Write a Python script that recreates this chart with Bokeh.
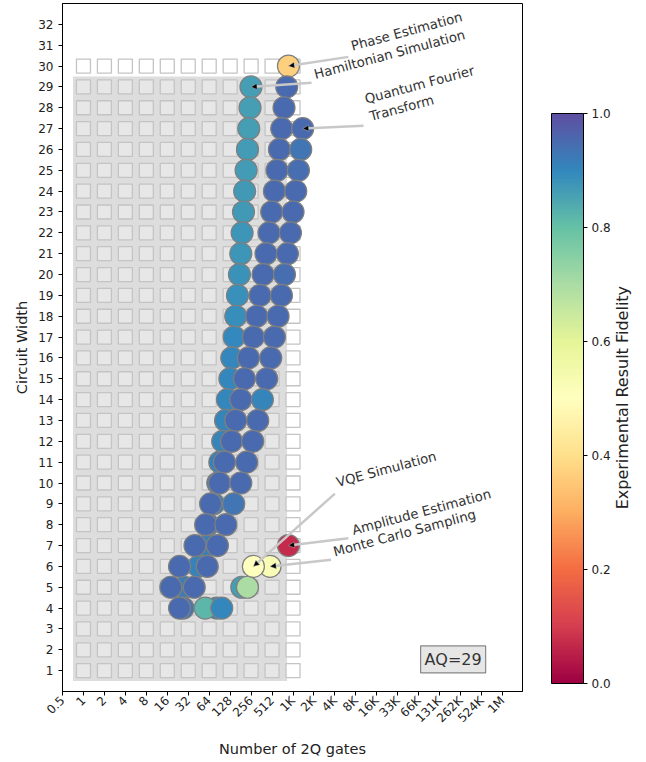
import math
import numpy as np
from bokeh.plotting import figure
from bokeh.models import (ColumnDataSource, LinearColorMapper, FixedTicker, Range1d,
                          Label, Arrow, NormalHead, ColorBar, PrintfTickFormatter)
from bokeh.layouts import row
from bokeh.transform import transform
from bokeh.core.properties import value
from bokeh.embed import file_html
from bokeh.resources import INLINE

# ---------------- data ----------------
AQ = 29
x_tick_values = [0.5] + [2 ** k for k in range(0, 21)]
x_tick_labels = ["0.5", "1", "2", "4", "8", "16", "32", "64", "128", "256", "512",
                 "1K", "2K", "4K", "8K", "16K", "33K", "66K", "131K", "262K", "524K", "1M"]
y_ticks = list(range(1, 33))
grid_depths = [1, 2, 4, 8, 16, 32, 64, 128, 256, 512, 1024]
grid_widths = list(range(1, 31))
cbar_ticks = [0.0, 0.2, 0.4, 0.6, 0.8, 1.0]

ham_width = list(range(29, 3, -1))
ham_gates = [255, 247, 237, 227, 217, 207, 199, 190, 182, 174, 163, 154, 146, 135, 127,
             117, 110, 100, 91, 85, 74, 62, 59, 45, 28, 27]
ham_fid = [0.86, 0.86, 0.86, 0.865, 0.865, 0.87, 0.87, 0.875, 0.875, 0.88, 0.885, 0.89,
           0.895, 0.9, 0.9, 0.9, 0.905, 0.905, 0.91, 0.91, 0.91, 0.915, 0.915, 0.91, 0.92, 0.93]

pe_width = list(range(30, 3, -1))
pe_gates = [880, 832, 760, 705, 653, 603, 554, 506, 463, 419, 380, 344, 308, 276, 234,
            205, 182, 154, 134, 106, 90, 67, 57, 40, 24, 18, 24]
pe_fid = [0.37, 0.95, 0.95, 0.95, 0.95, 0.95, 0.95, 0.95, 0.95, 0.95, 0.95, 0.95, 0.95,
          0.95, 0.95, 0.95, 0.95, 0.95, 0.95, 0.95, 0.95, 0.95, 0.95, 0.95, 0.95, 0.95, 0.95]

qft_width = list(range(27, 4, -1))
qft_gates = [1411, 1321, 1224, 1120, 1024, 940, 851, 771, 698, 624, 554, 490, 429, 372,
             319, 270, 221, 182, 144, 111, 84, 60, 39]
qft_fid = [0.95, 0.93, 0.945, 0.95, 0.95, 0.95, 0.95, 0.945, 0.95, 0.95, 0.95, 0.95, 0.95,
           0.905, 0.95, 0.95, 0.95, 0.95, 0.93, 0.95, 0.95, 0.95, 0.95]

ae_width = [4, 5, 7]
ae_gates = [82, 188, 880]
ae_fid = [0.9, 0.86, 0.07]

mc_width = [4, 5, 6]
mc_gates = [56, 227, 479]
mc_fid = [0.82, 0.70, 0.53]

vqe_width = [4, 6]
vqe_gates = [97, 276]
vqe_fid = [0.9, 0.5]

series = [
    ("Hamiltonian Simulation", ham_width, ham_gates, ham_fid),
    ("Phase Estimation", pe_width, pe_gates, pe_fid),
    ("Quantum Fourier\nTransform", qft_width, qft_gates, qft_fid),
    ("Amplitude Estimation", ae_width, ae_gates, ae_fid),
    ("Monte Carlo Sampling", mc_width, mc_gates, mc_fid),
    ("VQE Simulation", vqe_width, vqe_gates, vqe_fid),
]

# annotation layout: label -> (text offset, arrow-tail offset) in axis units from the widest point
ann_layout = {
    "Phase Estimation": ((3.09, 0.60), (2.86, 0.44)),
    "Hamiltonian Simulation": ((3.12, 0.24), (2.89, 0.20)),
    "Quantum Fourier\nTransform": ((3.29, 0.22), (2.90, 0.14)),
    "VQE Simulation": ((4.06, 3.67), (3.89, 3.49)),
    "Amplitude Estimation": ((3.14, 0.37), (2.86, 0.35)),
    "Monte Carlo Sampling": ((3.13, 0.34), (2.91, 0.32)),
}

# ---------------- colours ----------------
spectral = ["#9e0142", "#d53e4f", "#f46d43", "#fdae61", "#fee08b", "#ffffbf",
            "#e6f598", "#abdda4", "#66c2a5", "#3288bd", "#5e4fa2"]


def interp_palette(anchors, n=256):
    rgb = [tuple(int(h[i:i + 2], 16) for i in (1, 3, 5)) for h in anchors]
    out = []
    for k in range(n):
        t = k / (n - 1) * (len(rgb) - 1)
        i = min(int(t), len(rgb) - 2)
        f = t - i
        c = [round(rgb[i][j] * (1 - f) + rgb[i + 1][j] * f) for j in range(3)]
        out.append("#%02x%02x%02x" % tuple(c))
    return out


palette = interp_palette(spectral)
mapper = LinearColorMapper(palette=palette, low=0.0, high=1.0)
FONT = "DejaVu Sans"
TXT = "#222222"

# ---------------- main figure ----------------
p = figure(width=544, height=760, x_range=Range1d(-1, 20.95), y_range=Range1d(0, 33),
           output_backend="svg", toolbar_location=None,
           min_border_left=62, min_border_right=22, min_border_top=3, min_border_bottom=64)
p.grid.visible = False
p.outline_line_color = "black"
p.outline_line_width = 1

# AQ region
p.quad(left=-0.5, right=math.log2(AQ ** 2), bottom=0.5, top=AQ + 0.5,
       fill_color="#dddddd", line_color=None)

# grid of squares
sq_x, sq_y, sq_fill = [], [], []
for d in grid_depths:
    for w in grid_widths:
        sq_x.append(math.log2(d))
        sq_y.append(w)
        inside = (w <= AQ) and (d <= AQ ** 2)
        sq_fill.append("#e7e7e7" if inside else "#ffffff")
p.scatter(x=sq_x, y=sq_y, marker="square", size=14, fill_color=sq_fill,
          line_color="#c4c4c4", line_width=1.3)

# circles
for name, ws, gs, fs in series:
    src = ColumnDataSource(dict(x=[math.log2(g) for g in gs], y=ws, fid=fs))
    p.scatter("x", "y", source=src, marker="circle", size=22,
              fill_color=transform("fid", mapper), line_color="#7f7f7f", line_width=1.2)

# annotations (arrow to the widest circuit of each benchmark)
tx, ty, tt = [], [], []
for name, ws, gs, fs in series:
    k = ws.index(max(ws))
    x0, y0 = math.log2(gs[k]), ws[k]
    (dxt, dyt), (dxa, dya) = ann_layout[name]
    p.add_layout(Arrow(end=NormalHead(size=6, fill_color="black", line_color="#bbbbbb",
                                      line_width=0.5),
                       x_start=x0 + dxa, y_start=y0 + dya, x_end=x0, y_end=y0,
                       line_color="#c8c8c8", line_width=2.5))
    tx.append(x0 + dxt)
    ty.append(y0 + dyt)
    tt.append(name)
p.text(x=tx, y=ty, text=tt, angle=15, angle_units="deg", text_font=value(FONT),
       text_font_size="13.3px", text_align="left", text_baseline="bottom",
       text_color="#333333", text_line_height=1.2)

p.add_layout(Label(x=17.64, y=1.54, text="AQ=%d" % AQ, text_align="center",
                   text_baseline="middle", text_font=FONT, text_font_size="16px",
                   text_color="#333333", background_fill_color="#e6e6e6",
                   border_line_color="#888888", border_line_width=1.2, padding=4))

# axes
xt = [round(math.log2(v)) for v in x_tick_values]
ax = p.xaxis[0]
ax.ticker = FixedTicker(ticks=xt)
ax.major_label_overrides = {t: s for t, s in zip(xt, x_tick_labels)}
ax.major_label_orientation = math.pi / 4
ax.major_label_standoff = 3
ax.axis_label = "Number of 2Q gates"
ax.axis_label_standoff = 8

ay = p.yaxis[0]
ay.ticker = FixedTicker(ticks=y_ticks)
ay.axis_label = "Circuit Width"

for a in (ax, ay):
    a.axis_label_text_font = FONT
    a.axis_label_text_font_size = "14.5px"
    a.axis_label_text_font_style = "normal"
    a.axis_label_text_color = TXT
    a.major_label_text_font = FONT
    a.major_label_text_font_size = "12px"
    a.major_label_text_color = TXT
    a.minor_tick_line_color = None
    a.major_tick_in = 0
    a.major_tick_out = 4
    a.axis_line_color = "black"
    a.major_tick_line_color = "black"

# ---------------- colour bar panel ----------------
cb = figure(width=96, height=760, x_range=Range1d(0, 1), y_range=Range1d(0, 1),
            output_backend="svg", toolbar_location=None,
            x_axis_location=None, y_axis_location=None,
            min_border_left=0, min_border_right=0, min_border_top=3, min_border_bottom=64)
cb.outline_line_color = None
cb.grid.visible = False
cb.xgrid.grid_line_color = None
cb.ygrid.grid_line_color = None
color_bar = ColorBar(color_mapper=mapper, location=(7, 8), width=32, height=570,
                     padding=0, margin=0, ticker=FixedTicker(ticks=cbar_ticks),
                     formatter=PrintfTickFormatter(format="%.1f"),
                     major_label_text_font=FONT, major_label_text_font_size="12px",
                     major_label_text_color=TXT, major_tick_out=4, major_tick_in=0,
                     major_tick_line_color="black", minor_tick_line_color=None,
                     bar_line_color="black", label_standoff=4,
                     background_fill_color=None, border_line_color=None)
cb.add_layout(color_bar, "center")
cb.text(x=[(622 - 544) / 96], y=[(696 - 400) / 693], text=["Experimental Result Fidelity"],
        angle=90, angle_units="deg", text_align="center", text_baseline="middle",
        text_font=value(FONT), text_font_size="16px", text_color=TXT)

layout = row(p, cb)
open("out.html", "w").write(file_html(layout, INLINE))
